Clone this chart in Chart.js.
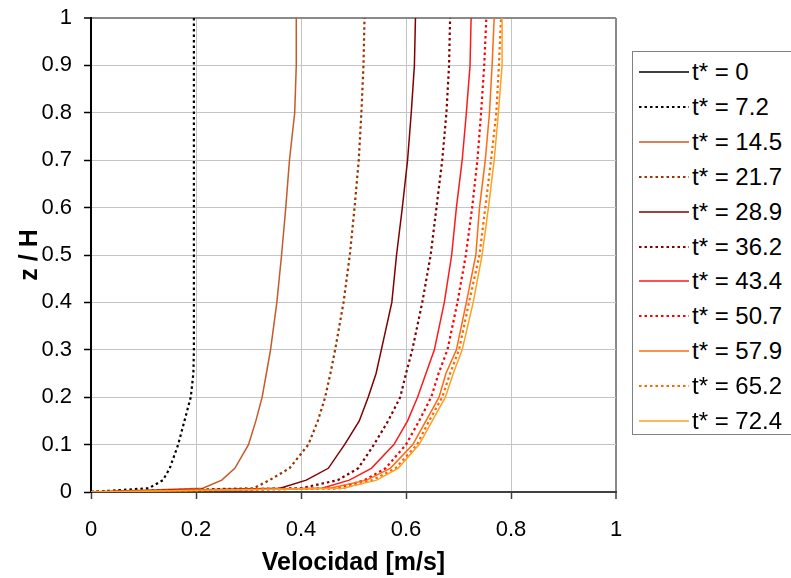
<!DOCTYPE html>
<html><head><meta charset="utf-8">
<script src="https://cdn.jsdelivr.net/npm/chart.js@4/dist/chart.umd.min.js"></script>
<style>
html,body{margin:0;padding:0;background:#fff;}
#wrap{position:relative;width:791px;height:578px;overflow:hidden;font-family:"Liberation Sans",Arial,sans-serif;}
#c{position:absolute;left:0;top:0;}
#legend{position:absolute;left:632px;top:51px;width:175px;height:384px;border:1px solid #808080;box-sizing:border-box;background:#fff;}
.item{position:absolute;left:6px;height:30px;display:flex;align-items:center;font-size:24px;color:#000;white-space:nowrap;line-height:30px;}
.item svg{margin-right:3px;display:block;}
</style></head><body>
<div id="wrap"><canvas id="c" width="791" height="578"></canvas><div id="legend"></div></div>
<script>
// ---- data ----
const zLevels = [0, 0.008, 0.025, 0.05, 0.1, 0.15, 0.2, 0.25, 0.3, 0.4, 0.5, 0.6, 0.7, 0.8, 0.9, 1];
const seriesLabels = ['t* = 0','t* = 7.2','t* = 14.5','t* = 21.7','t* = 28.9','t* = 36.2','t* = 43.4','t* = 50.7','t* = 57.9','t* = 65.2','t* = 72.4'];
const u_t0_0  = [0, 0, 0, 0, 0, 0, 0, 0, 0, 0, 0, 0, 0, 0, 0, 0];
const u_t7_2  = [0, 0.110, 0.137, 0.150, 0.166, 0.178, 0.190, 0.195, 0.196, 0.196, 0.196, 0.196, 0.196, 0.196, 0.196, 0.196];
const u_t14_5 = [0, 0.213, 0.249, 0.274, 0.300, 0.314, 0.326, 0.334, 0.342, 0.354, 0.363, 0.371, 0.378, 0.388, 0.391, 0.391];
const u_t21_7 = [0, 0.310, 0.340, 0.378, 0.414, 0.432, 0.446, 0.456, 0.465, 0.481, 0.493, 0.502, 0.510, 0.515, 0.519, 0.521];
const u_t28_9 = [0, 0.360, 0.410, 0.452, 0.483, 0.511, 0.528, 0.543, 0.553, 0.573, 0.582, 0.593, 0.603, 0.610, 0.616, 0.618];
const u_t36_2 = [0, 0.400, 0.470, 0.509, 0.539, 0.566, 0.589, 0.600, 0.612, 0.631, 0.647, 0.658, 0.669, 0.677, 0.682, 0.684];
const u_t43_4 = [0, 0.440, 0.492, 0.534, 0.577, 0.603, 0.622, 0.638, 0.654, 0.673, 0.687, 0.696, 0.707, 0.715, 0.722, 0.724];
const u_t50_7 = [0, 0.470, 0.521, 0.561, 0.600, 0.625, 0.648, 0.662, 0.679, 0.698, 0.714, 0.726, 0.736, 0.743, 0.749, 0.753];
const u_t57_9 = [0, 0.455, 0.525, 0.570, 0.613, 0.638, 0.663, 0.676, 0.696, 0.715, 0.733, 0.740, 0.751, 0.759, 0.764, 0.768];
const u_t65_2 = [0, 0.480, 0.536, 0.580, 0.621, 0.644, 0.669, 0.684, 0.701, 0.720, 0.740, 0.751, 0.762, 0.772, 0.777, 0.781];
const u_t72_4 = [0, 0.480, 0.544, 0.585, 0.625, 0.650, 0.675, 0.690, 0.707, 0.728, 0.745, 0.757, 0.768, 0.776, 0.783, 0.783];
const xTickLabels = ['0','0.2','0.4','0.6','0.8','1'];
const yTickLabels = ['0','0.1','0.2','0.3','0.4','0.5','0.6','0.7','0.8','0.9','1'];

// ---- styles ----
const seriesValues = [u_t0_0,u_t7_2,u_t14_5,u_t21_7,u_t28_9,u_t36_2,u_t43_4,u_t50_7,u_t57_9,u_t65_2,u_t72_4];
const seriesColors = ['#000000','#000000','#C65A28','#993300','#800000','#800000','#FF1A1A','#FF0000','#FF6A10','#FF6600','#FFA020'];
const seriesDotted = [false,true,false,true,false,true,false,true,false,true,false];
const FONT = '"Liberation Sans", Arial, sans-serif';

const datasets = seriesValues.map((vals, i) => ({
  label: seriesLabels[i],
  data: zLevels.map((z, k) => ({x: vals[k], y: z})),
  borderColor: seriesColors[i],
  backgroundColor: seriesColors[i],
  borderWidth: seriesDotted[i] ? 2.2 : 1.5,
  borderDash: seriesDotted[i] ? [2.5, 3] : [],
  showLine: true,
  pointRadius: 0,
  tension: 0,
  fill: false,
  order: seriesValues.length - i
}));

new Chart(document.getElementById('c'), {
  type: 'scatter',
  data: {datasets},
  options: {
    responsive: false,
    animation: false,
    devicePixelRatio: 1,
    layout: {padding: {top: 18, right: 175, left: 0, bottom: 0}},
    plugins: {legend: {display: false}, tooltip: {enabled: false}},
    scales: {
      x: {
        type: 'linear', min: 0, max: 1,
        ticks: {stepSize: 0.2, color: '#000', font: {family: FONT, size: 22}, padding: 18, maxRotation: 0,
                callback: (v, i) => xTickLabels[i]},
        grid: {
          color: c => (c.tick && Math.abs(c.tick.value - 1) < 1e-6) ? '#8a8a8a' : '#c4c4c4',
          lineWidth: c => (c.tick && Math.abs(c.tick.value - 1) < 1e-6) ? 2 : 1,
          tickLength: 7, tickColor: '#404040', tickWidth: 1.5
        },
        border: {color: '#404040', width: 2},
        title: {display: true, text: 'Velocidad [m/s]', color: '#000',
                font: {family: FONT, size: 25, weight: 'bold'}, padding: {top: 0, bottom: 0}},
        afterFit: s => { s.height = 86; s.paddingLeft = 0; s.paddingRight = 0; }
      },
      y: {
        type: 'linear', min: 0, max: 1,
        ticks: {stepSize: 0.1, color: '#000', font: {family: FONT, size: 22}, padding: 12,
                callback: (v, i) => yTickLabels[i]},
        grid: {
          color: c => (c.tick && Math.abs(c.tick.value - 1) < 1e-6) ? '#8a8a8a' : '#c4c4c4',
          lineWidth: c => (c.tick && Math.abs(c.tick.value - 1) < 1e-6) ? 2 : 1,
          tickLength: 7, tickColor: '#000', tickWidth: 1.5
        },
        border: {color: '#000', width: 2},
        title: {display: true, text: 'z / H', color: '#000',
                font: {family: FONT, size: 25, weight: 'bold'}, padding: {top: 15, bottom: 0}},
        afterFit: s => { s.width = 91; s.paddingTop = 0; s.paddingBottom = 0; }
      }
    }
  }
});

// ---- HTML legend built from the same series arrays ----
const legend = document.getElementById('legend');
seriesLabels.forEach((lab, i) => {
  const item = document.createElement('div');
  item.className = 'item';
  item.style.top = (72 + i * 34.9 - 15 - 52) + 'px';
  const dash = seriesDotted[i] ? ' stroke-dasharray="2.5 3"' : '';
  const w = seriesDotted[i] ? 2.2 : 1.5;
  item.innerHTML = '<svg width="50" height="6"><line x1="0" y1="3" x2="50" y2="3" stroke="' + seriesColors[i] +
    '" stroke-width="' + w + '"' + dash + '/></svg><span>' + lab + '</span>';
  legend.appendChild(item);
});
</script>
</body></html>
